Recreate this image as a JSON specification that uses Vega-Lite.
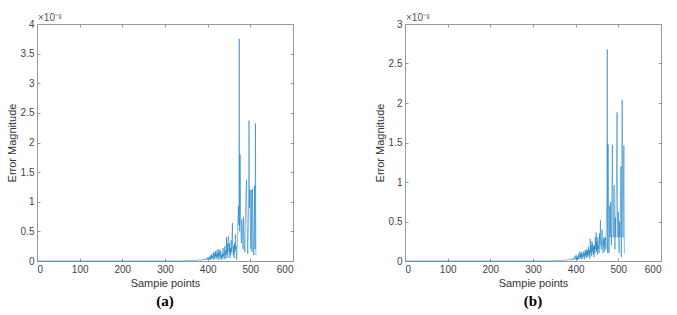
{
  "$schema": "https://vega.github.io/schema/vega-lite/v6.json",
  "background": "white",
  "padding": {"left": 5, "top": 12, "right": 5, "bottom": 3},
  "spacing": 79,
  "datasets": {
    "a": [
      {"x":0,"y":0},{"x":100,"y":0},{"x":200,"y":0},{"x":300,"y":0},{"x":340,"y":0},
      {"x":345,"y":0.005},{"x":350,"y":0.003},{"x":355,"y":0.008},{"x":360,"y":0.004},{"x":364,"y":0.012},{"x":368,"y":0.006},{"x":372,"y":0.015},{"x":376,"y":0.008},{"x":380,"y":0.02},{"x":384,"y":0.01},{"x":388,"y":0.03},{"x":390,"y":0.012},{"x":392,"y":0.035},{"x":394,"y":0.015},{"x":396,"y":0.045},{"x":398,"y":0.02},
      {"x":400,"y":0.06},{"x":401,"y":0.02},{"x":402,"y":0.05},{"x":403,"y":0.03},{"x":404,"y":0.08},{"x":405,"y":0.03},{"x":406,"y":0.07},{"x":407,"y":0.02},{"x":408,"y":0.1},{"x":409,"y":0.04},
      {"x":410,"y":0.12},{"x":411,"y":0.05},{"x":412,"y":0.08},{"x":413,"y":0.02},{"x":414,"y":0.15},{"x":415,"y":0.06},{"x":416,"y":0.13},{"x":417,"y":0.03},{"x":418,"y":0.17},{"x":419,"y":0.08},
      {"x":420,"y":0.12},{"x":421,"y":0.04},{"x":422,"y":0.19},{"x":423,"y":0.07},{"x":424,"y":0.14},{"x":425,"y":0.02},{"x":426,"y":0.2},{"x":427,"y":0.09},{"x":428,"y":0.16},{"x":429,"y":0.03},
      {"x":430,"y":0.18},{"x":431,"y":0.06},{"x":432,"y":0.1},{"x":433,"y":0.02},{"x":434,"y":0.14},{"x":435,"y":0.05},{"x":436,"y":0.22},{"x":437,"y":0.08},{"x":438,"y":0.12},{"x":439,"y":0.03},
      {"x":440,"y":0.25},{"x":441,"y":0.1},{"x":442,"y":0.18},{"x":443,"y":0.04},{"x":444,"y":0.4},{"x":445,"y":0.12},{"x":446,"y":0.3},{"x":447,"y":0.06},{"x":448,"y":0.38},{"x":449,"y":0.42},
      {"x":450,"y":0.15},{"x":451,"y":0.3},{"x":452,"y":0.05},{"x":453,"y":0.22},{"x":454,"y":0.1},{"x":455,"y":0.35},{"x":456,"y":0.15},{"x":457,"y":0.28},{"x":458,"y":0.64},{"x":459,"y":0.2},
      {"x":460,"y":0.1},{"x":461,"y":0.26},{"x":462,"y":0.05},{"x":463,"y":0.3},{"x":464,"y":0.15},{"x":465,"y":0.45},{"x":466,"y":0.2},{"x":467,"y":0.25},{"x":468,"y":0.02},{"x":469,"y":0.2},
      {"x":470,"y":0.4},{"x":471,"y":0.7},{"x":472,"y":0.93},{"x":473,"y":0.6},{"x":474,"y":3.75},{"x":475,"y":0.5},{"x":476,"y":1.8},{"x":477,"y":0.9},{"x":478,"y":0.55},{"x":479,"y":0.3},
      {"x":480,"y":0.7},{"x":481,"y":0.6},{"x":482,"y":0.45},{"x":483,"y":0.2},{"x":484,"y":0.74},{"x":485,"y":0.5},{"x":486,"y":0.3},{"x":487,"y":0.15},{"x":488,"y":0.6},{"x":489,"y":0.9},
      {"x":490,"y":1.2},{"x":491,"y":1.37},{"x":492,"y":0.8},{"x":493,"y":0.4},{"x":494,"y":0.12},{"x":495,"y":0.5},{"x":496,"y":1.0},{"x":497,"y":2.37},{"x":498,"y":0.9},{"x":499,"y":1.2},
      {"x":500,"y":0.6},{"x":501,"y":0.2},{"x":502,"y":1.2},{"x":503,"y":0.5},{"x":504,"y":0.15},{"x":505,"y":1.22},{"x":506,"y":0.7},{"x":507,"y":0.3},{"x":508,"y":0.1},{"x":509,"y":0.6},
      {"x":510,"y":1.27},{"x":511,"y":0.2},{"x":512,"y":2.32},{"x":513,"y":0.1}
    ],
    "b": [
      {"x":0,"y":0},{"x":100,"y":0},{"x":200,"y":0},{"x":300,"y":0},{"x":340,"y":0},
      {"x":345,"y":0.003},{"x":350,"y":0.005},{"x":355,"y":0.002},{"x":360,"y":0.008},{"x":364,"y":0.004},{"x":368,"y":0.01},{"x":372,"y":0.005},{"x":376,"y":0.015},{"x":380,"y":0.008},{"x":384,"y":0.02},{"x":388,"y":0.01},{"x":390,"y":0.03},{"x":392,"y":0.012},{"x":394,"y":0.04},{"x":396,"y":0.015},{"x":398,"y":0.06},
      {"x":400,"y":0.02},{"x":401,"y":0.08},{"x":402,"y":0.03},{"x":403,"y":0.05},{"x":404,"y":0.015},{"x":405,"y":0.06},{"x":406,"y":0.02},{"x":407,"y":0.09},{"x":408,"y":0.03},{"x":409,"y":0.05},
      {"x":410,"y":0.12},{"x":411,"y":0.04},{"x":412,"y":0.1},{"x":413,"y":0.02},{"x":414,"y":0.11},{"x":415,"y":0.05},{"x":416,"y":0.08},{"x":417,"y":0.03},{"x":418,"y":0.12},{"x":419,"y":0.06},
      {"x":420,"y":0.1},{"x":421,"y":0.02},{"x":422,"y":0.14},{"x":423,"y":0.07},{"x":424,"y":0.12},{"x":425,"y":0.04},{"x":426,"y":0.15},{"x":427,"y":0.05},{"x":428,"y":0.13},{"x":429,"y":0.08},
      {"x":430,"y":0.18},{"x":431,"y":0.06},{"x":432,"y":0.14},{"x":433,"y":0.03},{"x":434,"y":0.28},{"x":435,"y":0.1},{"x":436,"y":0.2},{"x":437,"y":0.06},{"x":438,"y":0.25},{"x":439,"y":0.12},
      {"x":440,"y":0.22},{"x":441,"y":0.08},{"x":442,"y":0.18},{"x":443,"y":0.05},{"x":444,"y":0.2},{"x":445,"y":0.1},{"x":446,"y":0.3},{"x":447,"y":0.15},{"x":448,"y":0.36},{"x":449,"y":0.12},
      {"x":450,"y":0.25},{"x":451,"y":0.08},{"x":452,"y":0.3},{"x":453,"y":0.15},{"x":454,"y":0.2},{"x":455,"y":0.1},{"x":456,"y":0.35},{"x":457,"y":0.2},{"x":458,"y":0.52},{"x":459,"y":0.25},
      {"x":460,"y":0.15},{"x":461,"y":0.3},{"x":462,"y":0.4},{"x":463,"y":0.2},{"x":464,"y":0.1},{"x":465,"y":0.28},{"x":466,"y":0.18},{"x":467,"y":0.3},{"x":468,"y":0.12},{"x":469,"y":0.25},
      {"x":470,"y":0.3},{"x":471,"y":0.15},{"x":472,"y":0.5},{"x":473,"y":0.8},{"x":474,"y":2.68},{"x":475,"y":0.1},{"x":476,"y":1.48},{"x":477,"y":0.6},{"x":478,"y":0.1},{"x":479,"y":0.35},
      {"x":480,"y":0.7},{"x":481,"y":0.3},{"x":482,"y":0.75},{"x":483,"y":0.5},{"x":484,"y":0.2},{"x":485,"y":0.9},{"x":486,"y":1.47},{"x":487,"y":0.6},{"x":488,"y":0.3},{"x":489,"y":0.5},
      {"x":490,"y":0.96},{"x":491,"y":0.4},{"x":492,"y":0.15},{"x":493,"y":0.55},{"x":494,"y":0.3},{"x":495,"y":0.8},{"x":496,"y":1.2},{"x":497,"y":1.88},{"x":498,"y":0.6},{"x":499,"y":0.3},
      {"x":500,"y":0.62},{"x":501,"y":0.2},{"x":502,"y":0.1},{"x":503,"y":0.5},{"x":504,"y":0.3},{"x":505,"y":0.8},{"x":506,"y":1.2},{"x":507,"y":0.05},{"x":508,"y":0.9},{"x":509,"y":2.04},
      {"x":510,"y":0.6},{"x":511,"y":0.3},{"x":512,"y":0.9},{"x":513,"y":1.46},{"x":514,"y":0.1}
    ]
  },
  "hconcat": [
    {
      "width": 256,
      "height": 237,
      "title": {"text": "(a)", "orient": "bottom", "font": "Liberation Serif", "fontSize": 15, "fontWeight": "bold", "color": "#000", "offset": 6},
      "resolve": {"axis": {"x": "independent", "y": "independent"}},
      "layer": [
        {
          "data": {"name": "a"},
          "mark": {"type": "line", "color": "#0072BD", "strokeWidth": 0.5},
          "encoding": {
            "x": {"field": "x", "type": "quantitative", "scale": {"domain": [0, 600], "nice": false},
                  "axis": {"title": "Sampie points", "values": [0,100,200,300,400,500,600], "format": "d"}},
            "y": {"field": "y", "type": "quantitative", "scale": {"domain": [0, 4], "nice": false},
                  "axis": {"title": "Error Magnitude", "values": [0,0.5,1,1.5,2,2.5,3,3.5,4], "format": "~g"}}
          }
        },
        {
          "data": {"name": "a"},
          "mark": {"type": "line", "strokeOpacity": 0},
          "encoding": {
            "x": {"field": "x", "type": "quantitative", "axis": {"orient": "top", "labels": false, "title": null, "values": [0,100,200,300,400,500,600]}},
            "y": {"field": "y", "type": "quantitative", "axis": {"orient": "right", "labels": false, "title": null, "values": [0,0.5,1,1.5,2,2.5,3,3.5,4]}}
          }
        },
        {
          "data": {"values": [{"x": 0, "y": 4, "t": "×10⁻³"}]},
          "mark": {"type": "text", "align": "left", "baseline": "bottom", "dy": -1, "dx": 1, "font": "Liberation Sans", "fontSize": 10, "color": "#555"},
          "encoding": {
            "x": {"field": "x", "type": "quantitative", "axis": null},
            "y": {"field": "y", "type": "quantitative", "axis": null},
            "text": {"field": "t"}
          }
        }
      ]
    },
    {
      "width": 256,
      "height": 237,
      "title": {"text": "(b)", "orient": "bottom", "font": "Liberation Serif", "fontSize": 15, "fontWeight": "bold", "color": "#000", "offset": 6},
      "resolve": {"axis": {"x": "independent", "y": "independent"}},
      "layer": [
        {
          "data": {"name": "b"},
          "mark": {"type": "line", "color": "#0072BD", "strokeWidth": 0.5},
          "encoding": {
            "x": {"field": "x", "type": "quantitative", "scale": {"domain": [0, 600], "nice": false},
                  "axis": {"title": "Sampie points", "values": [0,100,200,300,400,500,600], "format": "d"}},
            "y": {"field": "y", "type": "quantitative", "scale": {"domain": [0, 3], "nice": false},
                  "axis": {"title": "Error Magnitude", "values": [0,0.5,1,1.5,2,2.5,3], "format": "~g"}}
          }
        },
        {
          "data": {"name": "b"},
          "mark": {"type": "line", "strokeOpacity": 0},
          "encoding": {
            "x": {"field": "x", "type": "quantitative", "axis": {"orient": "top", "labels": false, "title": null, "values": [0,100,200,300,400,500,600]}},
            "y": {"field": "y", "type": "quantitative", "axis": {"orient": "right", "labels": false, "title": null, "values": [0,0.5,1,1.5,2,2.5,3]}}
          }
        },
        {
          "data": {"values": [{"x": 0, "y": 3, "t": "×10⁻³"}]},
          "mark": {"type": "text", "align": "left", "baseline": "bottom", "dy": -1, "dx": 1, "font": "Liberation Sans", "fontSize": 10, "color": "#555"},
          "encoding": {
            "x": {"field": "x", "type": "quantitative", "axis": null},
            "y": {"field": "y", "type": "quantitative", "axis": null},
            "text": {"field": "t"}
          }
        }
      ]
    }
  ],
  "config": {
    "view": {"stroke": "#999", "strokeWidth": 1},
    "axis": {
      "grid": false,
      "domainColor": "#999",
      "tickColor": "#999",
      "tickSize": -3,
      "labelPadding": 6,
      "labelFont": "Liberation Sans",
      "labelFontSize": 10,
      "labelColor": "#444",
      "titleFont": "Liberation Sans",
      "titleFontSize": 11,
      "titleFontWeight": "normal",
      "titleColor": "#333",
      "titlePadding": 3
    }
  }
}
